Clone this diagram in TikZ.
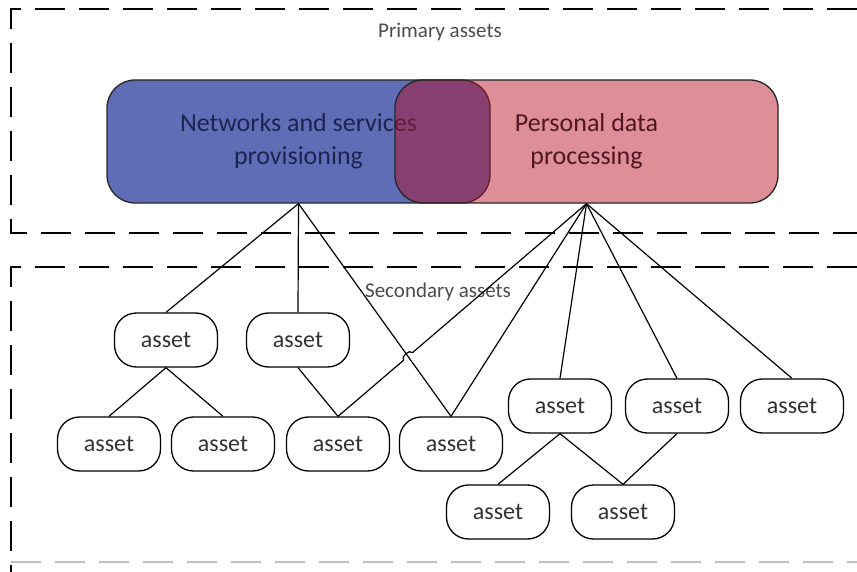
\documentclass[tikz,border=0pt]{standalone}
\usepackage{fontspec}
\setmainfont{Carlito}
\usetikzlibrary{calc}
\definecolor{netblue}{RGB}{94,109,182}
\definecolor{nettext}{RGB}{27,37,80}
\definecolor{percrim}{RGB}{185,15,36}
\definecolor{pertext}{RGB}{80,22,36}

\begin{document}
\begin{tikzpicture}[x=1pt, y=-1pt,
	dashline/.style={line width=2.5pt, dash pattern=on 30pt off 14pt},
	bigbox/.style={draw=black!85, line width=1.3pt, rounded corners=28pt, minimum width=383pt, minimum height=123pt, align=center, font=\fontsize{26}{33}\selectfont},
	asset/.style={draw, line width=1.3pt, rounded corners=22pt, minimum width=103pt, minimum height=54pt, text=black!80, font=\fontsize{24}{28}\selectfont},
	link/.style={line width=1.2pt}]
			\useasboundingbox (0,0) rectangle (857,572);
			\fill[white] (0,0) rectangle (857,572);
			
			\draw[dashline] (857,9)--(11,9)--(11,233)--(857,233);
			\draw[dashline] (857,267)--(11,267)--(11,572);
			\draw[dashline, black!25] (11,562)--(857,562);
			\node[text=black!70, font=\fontsize{21}{25}\selectfont] (prim) at (440,32) {Primary assets};
			\node[text=black!70, font=\fontsize{21}{25}\selectfont] (sec) at (438,292) {Secondary assets};
			
			\node[bigbox, fill=netblue, text=nettext] (nsp) at (298.5,141.5) {Networks and services\\provisioning};
			\node[bigbox, fill=percrim, fill opacity=0.47, text opacity=1, text=pertext] (pdp) at (586.5,141.5) {Personal data\\processing};
			
			\node[asset] (A1) at (166,340) {asset};
			\node[asset] (A2) at (298,340) {asset};
			\node[asset] (B1) at (109,444) {asset};
			\node[asset] (B2) at (223,444) {asset};
			\node[asset] (B3) at (338,444) {asset};
			\node[asset] (B4) at (451,444) {asset};
			\node[asset] (C1) at (560,406) {asset};
			\node[asset] (C2) at (677,406) {asset};
			\node[asset] (C3) at (792,406) {asset};
			\node[asset] (D1) at (498,512) {asset};
			\node[asset] (D2) at (623,512) {asset};
			
			\draw[link] (nsp.south)--(A1.north);
			\draw[link] (nsp.south)--(A2.north);
			\draw[link] (nsp.south)--(B4.north);
			\draw[link] (A1.south)--(B1.north);
			\draw[link] (A1.south)--(B2.north);
			\draw[link] (A2.south)--(B3.north);
			\coordinate (X) at (intersection of nsp.south--B4.north and pdp.south--B3.north);
			\draw[link] (B3.north)--($(X)!6pt!(B3.north)$) to[bend left=90] ($(X)!6pt!(pdp.south)$)--(pdp.south);
			\draw[link] (pdp.south)--(B4.north);
			\draw[link] (pdp.south)--(C1.north);
			\draw[link] (pdp.south)--(C2.north);
			\draw[link] (pdp.south)--(C3.north);
			\draw[link] (C1.south)--(D1.north);
			\draw[link] (C1.south)--(D2.north);
			\draw[link] (C2.south)--(D2.north);
			\end{tikzpicture}
\end{document}
